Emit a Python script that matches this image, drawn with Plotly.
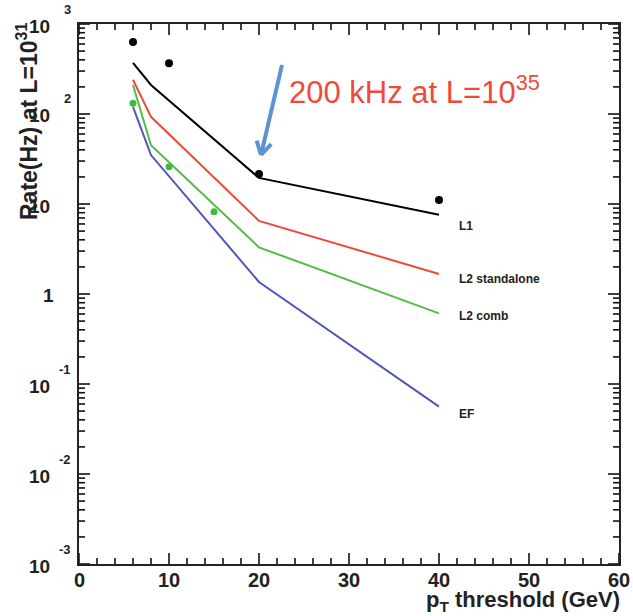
import numpy as np
import plotly.graph_objects as go

# Trigger rate versus muon pT threshold
pt_thresholds = [6, 8, 20, 40]
rate_l1 = [370, 210, 19.5, 7.6]
rate_l2_standalone = [240, 93, 6.5, 1.67]
rate_l2_comb = [210, 45, 3.3, 0.61]
rate_ef = [120, 35, 1.36, 0.056]

# measured points
pt_l1_meas = [6, 10, 20, 40]
rate_l1_meas = [630, 366, 21.5, 11.1]
pt_comb_meas = [6, 10, 15]
rate_comb_meas = [132, 26, 8.2]

series_names = ["L1", "L2 standalone", "L2 comb", "EF"]
series_colors = ["#000000", "#ee4a3a", "#55bb44", "#4e58b8"]
label_logy = [0.755, 0.17, -0.24, -1.33]

x_ticks = [0, 10, 20, 30, 40, 50, 60]
x_minor = [v for v in range(0, 61, 2) if v % 10]
y_exponents = [-3, -2, -1, 0, 1, 2, 3]
y_minor = [m * 10.0 ** e for e in range(-3, 3) for m in range(2, 10)]

X_RANGE = (0, 60)
LOGY_RANGE = (-3, 3)

W, H = 633, 616
L, R, T, B = 79, 14, 24, 52
PW, PH = W - L - R, H - T - B
X_PER_PX = (X_RANGE[1] - X_RANGE[0]) / PW
DEC_PER_PX = (LOGY_RANGE[1] - LOGY_RANGE[0]) / PH


def px(xp):
    return (xp - L) / PW


def py(yp):
    return (H - B - yp) / PH


def xfrac(v):
    return float((v - X_RANGE[0]) / (X_RANGE[1] - X_RANGE[0]))


def yfrac(v):
    return float((np.log10(v) - LOGY_RANGE[0]) / (LOGY_RANGE[1] - LOGY_RANGE[0]))


fig = go.Figure()

# inside ticks on all four sides of the frame
tx, ty = [], []
ylo, yhi = 10.0 ** LOGY_RANGE[0], 10.0 ** LOGY_RANGE[1]
for vals, ln in ((x_ticks, 11), (x_minor, 6)):
    for v in vals:
        tx += [v, v, None, v, v, None]
        ty += [ylo, ylo * 10 ** (ln * DEC_PER_PX), None,
               yhi, yhi / 10 ** (ln * DEC_PER_PX), None]
for vals, ln in (([10.0 ** e for e in y_exponents], 11), (y_minor, 6)):
    for v in vals:
        tx += [X_RANGE[0], X_RANGE[0] + ln * X_PER_PX, None,
               X_RANGE[1], X_RANGE[1] - ln * X_PER_PX, None]
        ty += [v, v, None, v, v, None]
fig.add_trace(go.Scatter(x=tx, y=ty, mode="lines", line=dict(color="#111111", width=1.6),
                         hoverinfo="skip", showlegend=False, connectgaps=False))

all_rates = [rate_l1, rate_l2_standalone, rate_l2_comb, rate_ef]
for name, col, vals in zip(series_names, series_colors, all_rates):
    fig.add_trace(go.Scatter(x=pt_thresholds, y=vals, mode="lines", name=name,
                             line=dict(color=col, width=2), showlegend=False))

fig.add_trace(go.Scatter(x=pt_l1_meas, y=rate_l1_meas, mode="markers",
                         marker=dict(color="black", size=8), showlegend=False))
fig.add_trace(go.Scatter(x=pt_comb_meas, y=rate_comb_meas, mode="markers",
                         marker=dict(color="#44b844", size=7), showlegend=False))

bold = "Liberation Sans"
ink = "#222222"
annotations = []

# curve labels
for name, ly in zip(series_names, label_logy):
    annotations.append(dict(x=42, y=ly, xref="x", yref="y", text="<b>%s</b>" % name,
                            showarrow=False, xanchor="left", yanchor="middle",
                            font=dict(family=bold, size=12, color=ink)))

# x tick labels
for v in x_ticks:
    annotations.append(dict(x=xfrac(v), y=0, xref="paper", yref="paper",
                            text="<b>%d</b>" % v, showarrow=False,
                            xanchor="center", yanchor="middle", yshift=-16,
                            font=dict(family=bold, size=20, color=ink)))

# y tick labels in 10^n form
for e in y_exponents:
    yv = yfrac(10.0 ** e)
    if e == 0:
        annotations.append(dict(x=0, y=yv, xref="paper", yref="paper", text="<b>1</b>",
                                showarrow=False, xanchor="right", yanchor="middle",
                                xshift=-23, yshift=-1,
                                font=dict(family=bold, size=19, color=ink)))
        continue
    annotations.append(dict(x=0, y=yv, xref="paper", yref="paper", text="<b>10</b>",
                            showarrow=False, xanchor="right", yanchor="middle",
                            xshift=-27, yshift=-2,
                            font=dict(family=bold, size=19, color=ink)))
    if e != 1:
        annotations.append(dict(x=0, y=yv, xref="paper", yref="paper",
                                text="<b>%d</b>" % e,
                                showarrow=False, xanchor="right", yanchor="middle",
                                xshift=-6, yshift=15,
                                font=dict(family=bold, size=13, color=ink)))

# axis titles
annotations.append(dict(x=1, y=py(601), xref="paper", yref="paper",
                        text="<b>p<sub>T</sub> threshold (GeV)</b>", showarrow=False,
                        xanchor="right", yanchor="middle", xshift=3,
                        font=dict(family=bold, size=22, color=ink)))
annotations.append(dict(x=px(27), y=py(121), xref="paper", yref="paper",
                        text="<b>Rate(Hz) at L=10<sup>31</sup></b>", showarrow=False,
                        textangle=-90, xanchor="center", yanchor="middle",
                        font=dict(family=bold, size=23, color=ink)))

# rate note
annotations.append(dict(x=px(287), y=py(90), xref="paper", yref="paper",
                        text="200 kHz at L=10<sup>35</sup>", showarrow=False,
                        xanchor="left", yanchor="middle",
                        font=dict(family="Liberation Sans", size=31, color="#f04a3c")))

shapes = []

# arrow pointing at the 20 GeV L1 point
tail = (282, 65)
tip = (261, 155)
d = np.array([tail[0] - tip[0], tail[1] - tip[1]], dtype=float)
d /= np.hypot(*d)
arrow_col = "#5b93d3"
shapes.append(dict(type="line", xref="paper", yref="paper",
                   x0=px(tail[0]), y0=py(tail[1]), x1=px(tip[0]), y1=py(tip[1]),
                   line=dict(color=arrow_col, width=4)))
for ang in (np.pi / 6, -np.pi / 6):
    c, s = np.cos(ang), np.sin(ang)
    v = np.array([d[0] * c - d[1] * s, d[0] * s + d[1] * c])
    wx, wy = tip[0] + 15 * v[0], tip[1] + 15 * v[1]
    shapes.append(dict(type="line", xref="paper", yref="paper",
                       x0=float(px(wx)), y0=float(py(wy)), x1=px(tip[0]), y1=py(tip[1]),
                       line=dict(color=arrow_col, width=4)))

fig.update_layout(
    template="none",
    width=W, height=H,
    margin=dict(l=L, r=R, t=T, b=B, autoexpand=False),
    paper_bgcolor="white", plot_bgcolor="white",
    annotations=annotations, shapes=shapes,
    xaxis=dict(range=list(X_RANGE), showticklabels=False, ticks="", automargin=False,
               showline=True, linecolor=ink, linewidth=1.5, mirror=True,
               showgrid=False, zeroline=False),
    yaxis=dict(type="log", range=list(LOGY_RANGE), showticklabels=False, ticks="",
               automargin=False, showline=True, linecolor=ink, linewidth=1.5,
               mirror=True, showgrid=False, zeroline=False),
)

fig.write_html("out.html")
